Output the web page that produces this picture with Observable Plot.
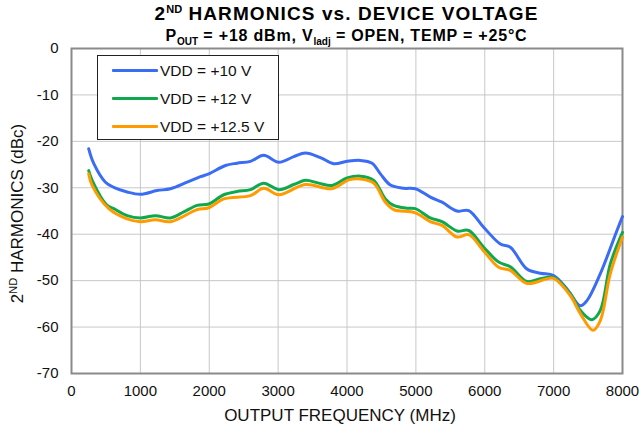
<!DOCTYPE html>
<html>
<head>
<meta charset="utf-8">
<script src="https://cdn.jsdelivr.net/npm/d3@7"></script>
<script src="https://cdn.jsdelivr.net/npm/@observablehq/plot@0.6"></script>
<style>
  html, body { margin: 0; padding: 0; background: #fff; }
  #wrap { position: relative; width: 639px; height: 427px; font-family: Arial, "Liberation Sans", sans-serif; }
  #title { position: absolute; left: 0; width: 639px; top: 3px; text-align: center; padding-left: 54px; box-sizing: border-box; color: #000; }
  #title .t1 { font-size: 19px; font-weight: bold; line-height: 21px; letter-spacing: 1.1px; }
  #title .t2 { font-size: 16px; font-weight: bold; line-height: 17px; letter-spacing: 0.8px; }
  #title sup { font-size: 11px; vertical-align: 0; position: relative; top: -7px; letter-spacing: 0; }
  #title sub { font-size: 10px; vertical-align: 0; position: relative; top: 4px; letter-spacing: 0; }
  #legend { position: absolute; left: 97px; top: 55px; width: 180px; height: 83px; border: 1px solid #222; background: #fff; }
  .li { position: absolute; left: 14px; height: 20px; font-size: 15.5px; color: #111; }
  .li .sw { position: absolute; left: 0; top: 8px; width: 46px; height: 3px; border-radius: 1px; }
  .li .tx { position: absolute; left: 48px; top: 0; white-space: nowrap; line-height: 20px; }
</style>
</head>
<body>
<div id="wrap">
  <div id="chart"></div>
  <div id="title">
    <div class="t1">2<sup>ND</sup> HARMONICS vs. DEVICE VOLTAGE</div>
    <div class="t2">P<sub>OUT</sub> = +18 dBm, V<sub>ladj</sub> = OPEN, TEMP = +25°C</div>
  </div>
  <div id="legend"></div>
</div>
<script>
// Series names and colors
const seriesNames = ["VDD = +10 V", "VDD = +12 V", "VDD = +12.5 V"];
const seriesColors = ["#3a6cf4", "#10a84c", "#ff9a00"];

// VDD = +10 V
const freq10 = [250, 324, 493, 614, 808, 1001, 1243, 1437, 1679, 1872, 1993, 2235, 2404, 2598, 2791, 3009, 3227, 3396, 3614, 3807, 4001, 4194, 4364, 4485, 4630, 4823, 4993, 5210, 5380, 5597, 5767, 5984, 6226, 6371, 6613, 6807, 7000, 7194, 7388, 7484, 7678, 7920, 8000];
const val10 = [-21.6, -24.8, -28.8, -29.9, -30.9, -31.4, -30.6, -30.2, -28.8, -27.6, -27.0, -25.2, -24.7, -24.3, -23.0, -24.5, -23.3, -22.5, -23.5, -24.8, -24.3, -24.1, -24.7, -27.0, -29.4, -30.1, -30.2, -32.0, -33.1, -35.0, -34.9, -38.5, -42.1, -42.8, -47.5, -48.4, -48.9, -51.8, -55.4, -54.3, -48.5, -39.2, -36.2];

// VDD = +12 V
const freq12 = [250, 300, 518, 614, 808, 1001, 1219, 1437, 1630, 1824, 1993, 2211, 2404, 2598, 2791, 3009, 3227, 3396, 3590, 3783, 4001, 4194, 4388, 4557, 4678, 4872, 4993, 5210, 5380, 5597, 5767, 5984, 6202, 6371, 6613, 6807, 7000, 7242, 7388, 7557, 7678, 7823, 8000];
const val12 = [-26.3, -28.4, -33.8, -34.5, -36.0, -36.5, -36.0, -36.5, -35.2, -33.8, -33.5, -31.5, -30.8, -30.4, -29.0, -30.4, -29.3, -28.4, -29.0, -29.5, -27.9, -27.5, -28.4, -32.4, -33.8, -34.4, -34.5, -36.5, -37.3, -39.3, -39.2, -42.8, -46.0, -47.0, -50.2, -49.6, -49.3, -52.8, -56.4, -58.4, -56.4, -46.4, -39.6];

// VDD = +12.5 V
const freq125 = [250, 300, 542, 808, 1001, 1219, 1437, 1824, 1993, 2211, 2598, 2791, 3009, 3396, 3783, 4025, 4194, 4388, 4557, 4678, 4993, 5210, 5380, 5597, 5767, 5984, 6202, 6371, 6613, 6904, 7000, 7242, 7388, 7572, 7678, 7823, 8000];
const val125 = [-27.0, -29.5, -34.5, -36.7, -37.3, -36.9, -37.3, -34.7, -34.3, -32.4, -31.7, -30.1, -31.5, -29.3, -30.2, -28.3, -28.1, -29.0, -33.1, -34.7, -35.4, -37.3, -38.1, -40.6, -40.1, -43.6, -47.1, -47.8, -50.6, -49.6, -49.5, -53.2, -57.1, -60.7, -58.6, -48.5, -40.6];

// Axis ticks
const xTicks = [0, 1000, 2000, 3000, 4000, 5000, 6000, 7000, 8000];
const yTicks = [0, -10, -20, -30, -40, -50, -60, -70];

const toRows = (fs, vs, name) => fs.map((f, i) => ({f, v: vs[i], s: name}));
const series = [
  toRows(freq10, val10, seriesNames[0]),
  toRows(freq12, val12, seriesNames[1]),
  toRows(freq125, val125, seriesNames[2])
];

const W = 639, H = 427;
const chart = Plot.plot({
  width: W,
  height: H,
  marginLeft: 71,
  marginRight: 17,
  marginTop: 48,
  marginBottom: 54,
  style: {fontFamily: "Arial, 'Liberation Sans', sans-serif", fontSize: "15px", color: "#111", background: "#fff"},
  x: {domain: [0, 8000], ticks: xTicks, tickSize: 0, label: null},
  y: {domain: [-70, 0], ticks: yTicks, tickSize: 0, label: null},
  marks: [
    Plot.gridX(xTicks, {stroke: "#c8c8c8", strokeOpacity: 1, strokeWidth: 1}),
    Plot.gridY(yTicks, {stroke: "#c8c8c8", strokeOpacity: 1, strokeWidth: 1}),
    Plot.frame({stroke: "#8a8a8a", strokeWidth: 2}),
    ...series.map((rows, i) => Plot.line(rows, {x: "f", y: "v", stroke: seriesColors[i], strokeWidth: 3, curve: "catmull-rom"})),
    Plot.axisX(xTicks, {tickSize: 0, tickPadding: 12, fontSize: 15, label: null, tickFormat: d => String(d)}),
    Plot.axisY(yTicks, {tickSize: 0, tickPadding: 13, fontSize: 15, label: null, tickFormat: d => String(d)})
  ]
});
document.getElementById("chart").appendChild(chart);

// Axis titles
const svg = d3.select(chart);
svg.append("text")
  .attr("x", 340)
  .attr("y", 421)
  .attr("text-anchor", "middle")
  .attr("font-size", 17)
  .attr("fill", "#111")
  .text("OUTPUT FREQUENCY (MHz)");
const yl = svg.append("text")
  .attr("transform", `translate(23, ${48 + 325 / 2 + 3}) rotate(-90)`)
  .attr("text-anchor", "middle")
  .attr("font-size", 17)
  .attr("fill", "#111");
yl.append("tspan").text("2");
yl.append("tspan").attr("font-size", 11).attr("dy", -6).text("ND");
yl.append("tspan").attr("dy", 6).text(" HARMONICS (dBc)");

// Legend
const leg = document.getElementById("legend");
seriesNames.forEach((name, i) => {
  const d = document.createElement("div");
  d.className = "li";
  d.style.top = (5 + i * 28) + "px";
  d.innerHTML = `<div class="sw" style="background:${seriesColors[i]}"></div><div class="tx">${name}</div>`;
  leg.appendChild(d);
});
</script>
</body>
</html>
